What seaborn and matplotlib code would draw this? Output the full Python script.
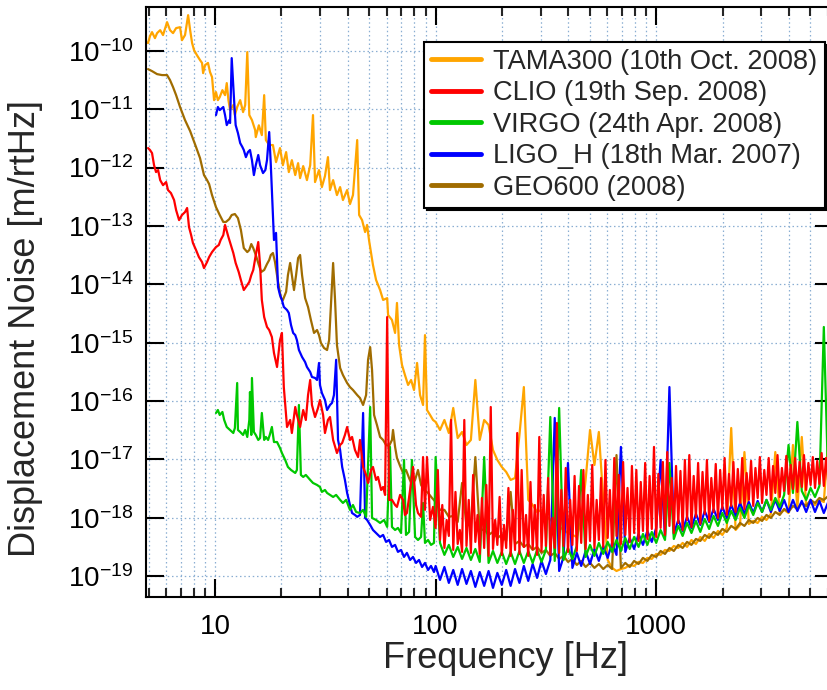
import numpy as np
import matplotlib
matplotlib.use("Agg")
import matplotlib.pyplot as plt
import seaborn as sns
from matplotlib.lines import Line2D
from matplotlib.ticker import FixedLocator, FixedFormatter, LogLocator, NullFormatter, NullLocator

sns.set_style("ticks")
plt.rcParams["font.family"] = ["Liberation Sans", "DejaVu Sans"]
plt.rcParams["mathtext.fontset"] = "custom"
plt.rcParams["mathtext.rm"] = "Liberation Sans"
plt.rcParams["mathtext.it"] = "Liberation Sans:italic"
plt.rcParams["mathtext.bf"] = "Liberation Sans:bold"

# ---------------- data ----------------
labels = ["TAMA300 (10th Oct. 2008)", "CLIO (19th Sep. 2008)", "VIRGO (24th Apr. 2008)",
          "LIGO_H (18th Mar. 2007)", "GEO600 (2008)"]
colors = ["#FFA500", "#FF0000", "#00C800", "#0000FF", "#A06C00"]

x_ticks = [10, 100, 1000]
x_tick_labels = ["10", "100", "1000"]
y_ticks = [1e-19, 1e-18, 1e-17, 1e-16, 1e-15, 1e-14, 1e-13, 1e-12, 1e-11, 1e-10]
y_tick_labels = [r"$\mathregular{10^{-19}}$", r"$\mathregular{10^{-18}}$", r"$\mathregular{10^{-17}}$",
                 r"$\mathregular{10^{-16}}$", r"$\mathregular{10^{-15}}$", r"$\mathregular{10^{-14}}$",
                 r"$\mathregular{10^{-13}}$", r"$\mathregular{10^{-12}}$", r"$\mathregular{10^{-11}}$",
                 r"$\mathregular{10^{-10}}$"]

# high-frequency sampling (Hz), shared by the dense parts of the spectra
freq_fine = [100, 102.3, 104.7, 107.2, 109.6, 112.2, 114.8, 117.5, 120.2, 123.0,
             125.9, 128.8, 131.8, 134.9, 138.0, 141.3, 144.5, 147.9, 151.4, 154.9,
             158.5, 162.2, 166.0, 169.8, 173.8, 177.8, 182.0, 186.2, 190.5, 195.0,
             199.5, 204.2, 208.9, 213.8, 218.8, 223.9, 229.1, 234.4, 239.9, 245.5,
             251.2, 257.0, 263.0, 269.2, 275.4, 281.8, 288.4, 295.1, 302.0, 309.0,
             316.2, 323.6, 331.1, 338.8, 346.7, 354.8, 363.1, 371.5, 380.2, 389.0,
             398.1, 407.4, 416.9, 426.6, 436.5, 446.7, 457.1, 467.7, 478.6, 489.8,
             501.2, 512.9, 524.8, 537.0, 549.5, 562.3, 575.4, 588.8, 602.6, 616.6,
             631.0, 645.7, 660.7, 676.1, 691.8, 707.9, 724.4, 741.3, 758.6, 776.2,
             794.3, 812.8, 831.8, 851.1, 871.0, 891.3, 912.0, 933.3, 955.0, 977.2,
             1000, 1023, 1047, 1072, 1096, 1122, 1148, 1175, 1202, 1230,
             1259, 1288, 1318, 1349, 1380, 1413, 1445, 1479, 1514, 1549,
             1585, 1622, 1660, 1698, 1738, 1778, 1820, 1862, 1905, 1950,
             1995, 2042, 2089, 2138, 2188, 2239, 2291, 2344, 2399, 2455,
             2512, 2570, 2630, 2692, 2754, 2818, 2884, 2951, 3020, 3090,
             3162, 3236, 3311, 3388, 3467, 3548, 3631, 3715, 3802, 3890,
             3981, 4074, 4169, 4266, 4365, 4467, 4571, 4677, 4786, 4898,
             5012, 5129, 5248, 5370, 5495, 5623, 5754, 5888, 6026]
freq_grid = freq_fine[::2]

# ---- TAMA300 ----
tama_lf_freq = [4.86, 4.97, 5.07, 5.18, 5.34, 5.46, 5.64, 5.81, 6.0, 6.06, 6.25, 6.45, 6.66, 6.94, 7.08,
                7.31, 7.55, 7.71, 7.87, 8.03, 8.28, 8.55, 8.73, 8.83, 9.01, 9.29, 9.49, 9.69, 9.9, 10.1,
                10.3, 10.5, 10.8, 11.1, 11.3, 11.5, 11.7, 12.1, 12.3, 12.6, 13.0, 13.4, 13.7, 14.0, 14.3,
                14.7, 15.2, 15.3, 15.8, 16.3, 16.7, 17.0, 17.6, 18.3, 18.9, 19.7, 20.3, 21.0, 21.6, 22.3,
                23.1, 23.8, 24.3, 25.1, 26.1, 27.0, 27.8, 28.4, 29.6, 30.5, 31.5, 32.5, 33.2, 34.3, 35.7,
                36.9, 38.0, 39.7, 40.9, 42.2, 44.1, 45.0, 46.4, 47.9, 48.9, 49.9, 52.0, 53.7, 56.0, 57.8,
                60.3, 60.9, 63.4, 65.5, 66.8, 68.3, 70.4, 72.6, 75.0, 77.4, 79.8, 82.4, 85.0, 87.7, 89.5,
                91.4, 94.4, 97.3]
tama_lf = [1.41e-10, 1.36e-10, 1.79e-10, 2.09e-10, 1.65e-10, 2.01e-10, 2.26e-10, 1.86e-10, 2.75e-10, 3.1e-10,
           2.26e-10, 2.01e-10, 2.45e-10, 2.54e-10, 1.52e-10, 1.86e-10, 4.08e-10, 2.26e-10, 1.36e-10, 1.03e-10,
           8.4e-11, 6.93e-11, 6.2e-11, 4.15e-11, 5.69e-11, 6.2e-11, 4.32e-11, 3.55e-11, 1.43e-11, 1.96e-11,
           1.43e-11, 1.61e-11, 2.12e-11, 1.74e-11, 2.8e-11, 1.43e-11, 9.7e-12, 1.18e-11, 7.93e-12, 1.09e-11,
           1.43e-11, 8.92e-12, 1.18e-11, 9.5e-11, 7.93e-12, 6.5e-12, 4.39e-12, 3.33e-12, 5.3e-12, 3.6e-12,
           1.74e-11, 2.96e-12, 2.43e-12, 2.43e-12, 1.24e-12, 2.16e-12, 1.10e-12, 1.84e-12, 8.38e-13, 1.34e-12,
           7.44e-13, 1.19e-12, 6.61e-13, 1.06e-12, 6.1e-13, 1.10e-12, 7.93e-12, 5.65e-13, 9.06e-13, 4.63e-13,
           7.15e-13, 1.51e-12, 4.12e-13, 6.1e-13, 3.38e-13, 4.63e-13, 2.78e-13, 4.12e-13, 2.37e-13, 3.38e-13,
           2.96e-12, 1.54e-13, 1.26e-13, 7.86e-14, 1.04e-13, 5.7e-14, 2.14e-14, 1.19e-14, 8.0e-15, 5.4e-15,
           5.8e-15, 2.98e-15, 2.45e-15, 1.47e-15, 4.8e-15, 9.1e-16, 4.15e-16, 2.8e-16, 1.89e-16, 2.3e-16,
           1.55e-16, 4.5e-16, 1.27e-16, 8.58e-17, 1.35e-15, 7.04e-17, 5.78e-17, 4.75e-17]
tama_hf = [4.39e-17, 3.20e-17, 4.75e-17, 2.84e-17, 7.62e-17, 2.33e-17, 2.96e-17, 1.77e-17, 2.16e-17, 2.30e-16,
           2.16e-17, 4.75e-17, 3.90e-17, 1.45e-17, 9.80e-18, 7.44e-18, 6.11e-18, 4.46e-18, 4.82e-18, 2.63e-17,
           1.74e-16, 2.03e-18, 1.66e-18, 1.26e-18, 1.37e-18, 1.08e-18, 9.20e-19, 8.18e-19, 6.99e-19, 6.20e-19,
           5.51e-19, 5.10e-19, 4.71e-19, 9.20e-19, 4.46e-18, 3.20e-17, 8.05e-18, 2.96e-17, 2.03e-18, 1.90e-19,
           1.39e-19, 1.23e-19, 1.33e-19, 1.39e-19, 1.56e-19, 1.50e-19, 1.76e-19, 1.69e-19, 2.06e-19, 1.98e-19,
           2.41e-19, 2.32e-19, 2.82e-19, 2.71e-19, 3.30e-19, 3.05e-19, 3.72e-19, 3.18e-19, 4.18e-19, 3.57e-19,
           4.71e-19, 4.02e-19, 5.30e-19, 4.53e-19, 5.97e-19, 5.10e-19, 6.72e-19, 3.46e-17, 6.20e-19, 7.56e-19,
           1.34e-17, 7.86e-19, 8.85e-19, 8.18e-19, 1.04e-18, 9.20e-19, 1.17e-18, 1.34e-17, 1.17e-18, 1.37e-18,
           1.21e-18, 1.77e-17, 1.42e-18, 2.43e-17, 1.60e-18, 1.80e-18, 1.66e-18, 2.03e-18, 1.87e-18, 2.16e-17]

# ---- CLIO ----
clio_lf_freq = [4.97, 5.07, 5.18, 5.29, 5.40, 5.52, 5.64, 5.81, 6.0, 6.12, 6.31, 6.52, 6.66, 6.87, 7.08,
                7.31, 7.47, 7.62, 7.79, 7.94, 8.2, 8.45, 8.73, 8.91, 9.2, 9.4, 9.69, 10.1, 10.4, 10.6,
                10.9, 11.1, 11.5, 11.8, 12.1, 12.4, 12.8, 13.1, 13.5, 14.0, 14.3, 14.6, 14.9, 15.3, 15.7,
                16.0, 16.3, 16.7, 17.2, 17.6, 18.1, 18.5, 19.1, 19.7, 20.1, 20.5, 21.2, 21.9, 22.3, 23.1,
                23.5, 24.3, 25.1, 25.8, 26.4, 27.0, 27.5, 28.4, 29.3, 29.9, 30.9, 31.5, 32.5, 33.2, 34.3,
                35.7, 36.9, 37.7, 38.8, 39.7, 40.9, 41.8, 43.1, 44.5, 45.4, 46.9, 48.4, 49.4, 51.0, 52.0,
                53.7, 54.8, 56.6, 57.8, 59.0, 60.3, 61.5, 63.4, 65.5, 66.8, 69.0, 71.2, 72.6, 74.1, 76.6,
                79.0, 81.5, 83.2, 85.9, 87.7, 89.5, 91.4, 94.4, 97.3]
clio_lf = [2.16e-12, 2.0e-12, 1.77e-12, 1.10e-12, 8.38e-13, 9.06e-13, 6.1e-13, 5.0e-13, 5.65e-13, 4.12e-13,
           3.66e-13, 2.78e-13, 1.87e-13, 1.26e-13, 1.54e-13, 1.73e-13, 2.03e-13, 9.57e-14, 6.99e-14, 5.1e-14,
           3.87e-14, 2.93e-14, 2.41e-14, 1.9e-14, 2.41e-14, 2.93e-14, 3.57e-14, 4.35e-14, 4.71e-14, 5.74e-14,
           6.99e-14, 1.04e-13, 6.45e-14, 4.71e-14, 3.44e-14, 2.32e-14, 1.63e-14, 1.18e-14, 7.99e-15, 9.73e-15,
           1.1e-14, 1.44e-14, 1.76e-14, 3.18e-14, 5.3e-14, 2.14e-14, 5.38e-15, 2.75e-15, 1.86e-15, 1.65e-15,
           1.25e-15, 6.67e-16, 3.84e-16, 1.11e-15, 1.47e-15, 1.74e-16, 3.6e-17, 4.75e-17, 2.84e-17, 7.92e-17,
           5.78e-17, 3.6e-17, 7.04e-17, 4.75e-17, 1.27e-16, 2.3e-16, 8.58e-17, 5.34e-17, 7.62e-17, 1.045e-16,
           5.78e-17, 2.84e-17, 4.75e-17, 5.34e-17, 2.16e-17, 1.29e-17, 1.77e-17, 1.92e-17, 2.63e-17, 3.6e-17,
           2.16e-17, 2.43e-17, 1.45e-17, 1.1e-17, 2.16e-17, 7.44e-18, 5.43e-18, 3.96e-18, 6.61e-18, 7.44e-18,
           4.46e-18, 5.02e-18, 3.0e-18, 3.38e-18, 2.47e-18, 2.75e-15, 2.03e-18, 2.03e-18, 1.66e-18, 1.54e-18,
           2.47e-18, 2.03e-18, 1.12e-18, 1.21e-18, 3.0e-18, 7.44e-18, 1.66e-18, 1.21e-18, 1.04e-18, 1.1e-17,
           1.37e-18, 1.1e-17, 9.2e-19, 1.54e-18]
clio_hf = [6.72e-19, 6.61e-18, 4.18e-19, 1.66e-18, 3.05e-19, 9.20e-19, 4.90e-19, 4.75e-17, 2.82e-19, 2.78e-18,
           3.57e-19, 6.20e-19, 2.61e-19, 4.75e-17, 3.30e-19, 2.03e-18, 2.51e-19, 5.43e-18, 3.87e-19, 1.12e-18,
           2.41e-19, 2.19e-18, 3.05e-19, 3.66e-18, 2.23e-19, 7.92e-17, 2.93e-19, 9.20e-19, 3.44e-19, 2.28e-18,
           2.32e-19, 7.56e-19, 3.05e-19, 3.25e-18, 2.23e-19, 1.37e-18, 2.82e-19, 2.84e-17, 2.41e-19, 6.61e-18,
           3.18e-19, 1.12e-18, 2.23e-19, 4.12e-18, 2.93e-19, 1.66e-18, 2.32e-19, 2.43e-17, 2.71e-19, 2.47e-18,
           3.30e-19, 4.82e-18, 2.32e-19, 9.96e-19, 3.05e-19, 4.22e-17, 2.51e-19, 3.00e-18, 3.30e-19, 7.15e-18,
           2.61e-19, 2.03e-18, 3.44e-19, 5.22e-18, 2.71e-19, 3.52e-18, 3.72e-19, 6.61e-18, 2.93e-19, 2.47e-18,
           4.02e-19, 8.05e-18, 3.05e-19, 2.03e-18, 4.18e-19, 4.82e-18, 3.18e-19, 9.80e-18, 4.53e-19, 3.00e-18,
           3.30e-19, 1.06e-17, 4.90e-19, 5.43e-18, 3.57e-19, 9.06e-18, 5.10e-19, 3.25e-18, 3.87e-19, 7.74e-18,
           5.51e-19, 6.61e-18, 4.02e-19, 4.12e-18, 5.97e-19, 8.71e-18, 4.35e-19, 5.22e-18, 6.45e-19, 1.64e-17,
           4.71e-19, 5.65e-18, 6.72e-19, 9.06e-18, 5.10e-19, 1.34e-17, 7.27e-19, 4.82e-18, 5.51e-19, 7.74e-18,
           8.18e-19, 6.36e-18, 6.20e-19, 9.80e-18, 9.20e-19, 1.19e-17, 6.99e-19, 5.22e-18, 1.04e-18, 8.71e-18,
           7.86e-19, 6.11e-18, 1.17e-18, 9.80e-18, 8.85e-19, 4.82e-18, 1.26e-18, 8.37e-18, 9.96e-19, 6.61e-18,
           1.42e-18, 1.06e-17, 1.12e-18, 5.65e-18, 1.60e-18, 9.06e-18, 1.26e-18, 6.88e-18, 1.80e-18, 1.06e-17,
           1.42e-18, 5.87e-18, 2.03e-18, 9.43e-18, 1.60e-18, 7.15e-18, 2.19e-18, 1.10e-17, 1.80e-18, 6.61e-18,
           2.47e-18, 1.06e-17, 2.03e-18, 7.74e-18, 2.67e-18, 1.19e-17, 2.28e-18, 7.15e-18, 2.89e-18, 1.15e-17,
           2.57e-18, 8.05e-18, 3.13e-18, 1.06e-17, 2.78e-18, 9.06e-18, 3.38e-18, 1.19e-17, 3.00e-18, 8.71e-18,
           3.66e-18, 1.10e-17, 3.25e-18, 9.43e-18, 3.81e-18, 1.29e-17, 3.52e-18, 1.06e-17, 3.96e-18]

# ---- VIRGO ----
virgo_lf_freq = [10.1, 10.3, 10.5, 10.8, 11.0, 11.3, 11.7, 12.1, 12.3, 12.6, 12.7, 13.0, 13.4, 13.7, 14.0,
                 14.3, 14.4, 14.6, 14.7, 15.0, 15.3, 15.7, 16.0, 16.3, 16.7, 17.0, 17.4, 17.7, 18.1, 18.5,
                 19.1, 19.7, 20.1, 20.8, 21.4, 22.1, 23.1, 23.5, 24.0, 24.5, 25.1, 25.8, 27.0, 27.8, 29.0,
                 29.9, 30.5, 31.5, 32.2, 33.2, 34.3, 35.4, 36.9, 38.0, 39.3, 40.9, 42.2, 43.6, 45.4, 46.9,
                 48.4, 50.5, 51.5, 53.7, 56.0, 58.4, 60.3, 62.1, 63.4, 65.5, 67.5, 69.7, 71.9, 73.4, 75.8,
                 78.1, 80.7, 83.2, 85.9, 87.7, 89.5, 92.4, 95.3, 98.3]
virgo_lf = [6.26e-17, 7.04e-17, 5.78e-17, 6.51e-17, 4.75e-17, 3.6e-17, 3.2e-17, 2.84e-17, 3.46e-17, 2.04e-16,
            3.2e-17, 2.96e-17, 2.63e-17, 3.2e-17, 2.43e-17, 4.75e-17, 1.43e-16, 2.63e-17, 2.49e-16, 2.96e-17,
            2.63e-17, 2.16e-17, 2.33e-17, 6.26e-17, 2.16e-17, 2.43e-17, 2.16e-17, 2.63e-17, 3.6e-17, 1.99e-17,
            1.99e-17, 1.57e-17, 1.29e-17, 9.8e-18, 7.44e-18, 6.61e-18, 5.87e-18, 6.61e-18, 8.58e-17, 5.43e-18,
            5.02e-18, 5.43e-18, 4.46e-18, 3.96e-18, 3.66e-18, 3.38e-18, 2.78e-18, 3.0e-18, 2.67e-18, 2.47e-18,
            2.28e-18, 2.47e-18, 2.03e-18, 1.8e-18, 2.03e-18, 1.37e-18, 1.66e-18, 1.26e-18, 1.21e-18, 1.37e-18,
            1.04e-18, 7.92e-17, 9.96e-19, 9.2e-19, 8.18e-19, 9.2e-19, 6.99e-19, 1.64e-17, 6.99e-19, 6.2e-19,
            6.72e-19, 5.51e-19, 9.8e-18, 5.1e-19, 5.74e-19, 9.8e-18, 4.71e-19, 4.18e-19, 4.71e-19, 1.8e-18,
            3.72e-19, 4.18e-19, 3.44e-19, 3.72e-19]
virgo_hf = [1.10e-17, 3.72e-19, 2.32e-19, 3.44e-19, 2.14e-19, 3.18e-19, 1.98e-19, 3.05e-19, 1.90e-19, 2.93e-19,
            1.76e-19, 1.10e-17, 1.69e-19, 2.71e-19, 1.69e-19, 2.61e-19, 1.62e-19, 2.61e-19, 1.62e-19, 2.71e-19,
            1.69e-19, 2.71e-19, 1.69e-19, 2.82e-19, 1.76e-19, 2.82e-19, 5.34e-17, 1.83e-19, 7.62e-17, 1.90e-19,
            3.05e-19, 1.98e-19, 3.30e-19, 6.61e-18, 2.14e-19, 3.44e-19, 2.23e-19, 3.72e-19, 2.41e-19, 3.87e-19,
            2.61e-19, 4.18e-19, 2.71e-19, 4.53e-19, 2.93e-19, 4.71e-19, 3.18e-19, 5.30e-19, 3.44e-19, 5.74e-19,
            3.72e-19, 6.20e-19, 4.18e-19, 8.71e-18, 4.35e-19, 7.27e-19, 4.90e-19, 8.18e-19, 5.51e-19, 8.85e-19,
            5.74e-19, 9.58e-19, 6.45e-19, 1.08e-18, 7.27e-19, 1.21e-18, 8.18e-19, 1.31e-18, 9.20e-19, 1.48e-18,
            9.96e-19, 1.66e-18, 1.12e-18, 1.80e-18, 1.26e-18, 2.03e-18, 1.37e-18, 2.19e-18, 1.54e-18, 2.47e-18,
            1.77e-17, 2.67e-18, 4.39e-17, 2.89e-18, 2.03e-18, 3.25e-18, 2.28e-18, 3.52e-18, 1.86e-15, 3.81e-18]

# ---- LIGO Hanford ----
ligo_lf_freq = [10.1, 10.3, 10.5, 10.9, 11.1, 11.3, 11.6, 11.7, 11.9, 12.2, 12.4, 12.7, 13.0, 13.3, 13.5,
                13.8, 14.1, 14.4, 14.7, 15.0, 15.3, 15.7, 16.0, 16.5, 16.9, 17.2, 17.6, 17.9, 18.3, 18.5,
                18.9, 19.3, 19.7, 20.1, 20.5, 21.2, 21.6, 22.1, 22.6, 23.1, 23.5, 24.0, 24.8, 25.6, 26.1,
                27.0, 27.5, 28.4, 29.0, 29.6, 29.9, 30.5, 31.5, 32.2, 33.2, 33.9, 34.6, 35.4, 36.1, 36.9,
                37.7, 38.8, 39.7, 40.9, 41.8, 43.1, 44.1, 45.4, 46.9, 47.9, 48.9, 50.5, 52.0, 53.7, 56.0,
                57.8, 59.6, 61.5, 63.4, 65.5, 67.5, 69.7, 71.9, 74.1, 76.6, 79.0, 81.5, 84.1, 86.8, 89.5,
                92.4, 95.3, 98.3]
ligo_lf = [7.93e-12, 1.09e-11, 9.65e-12, 1.09e-11, 7.93e-12, 5.34e-12, 6.5e-12, 5.8e-12, 7.5e-11, 1.43e-11,
           5.34e-12, 3.9e-12, 2.63e-12, 2.25e-12, 2.0e-12, 1.51e-12, 1.84e-12, 2.0e-12, 1.34e-12, 7.44e-13,
           1.1e-12, 1.64e-12, 1.1e-12, 8.05e-13, 9.06e-13, 1.34e-12, 4.06e-12, 1.1e-12, 1.42e-13, 5.74e-14,
           7.6e-14, 9.0e-15, 6.56e-15, 5.38e-15, 4.1e-15, 3.63e-15, 3.23e-15, 2.01e-15, 1.47e-15, 1.35e-15,
           1.11e-15, 7.5e-16, 5.7e-16, 4.67e-16, 3.84e-16, 3.15e-16, 2.59e-16, 2.49e-16, 2.3e-16, 4.5e-16,
           1.89e-16, 1.38e-16, 1.045e-16, 7.04e-17, 8.58e-17, 9.3e-17, 1.27e-16, 5.1e-16, 2.16e-17, 1.45e-17,
           7.44e-18, 4.46e-18, 2.67e-18, 1.66e-18, 1.21e-18, 1.12e-18, 1.04e-18, 1.12e-18, 6.26e-17, 9.96e-19,
           9.2e-19, 7.56e-19, 6.2e-19, 5.51e-19, 4.71e-19, 5.1e-19, 3.87e-19, 4.18e-19, 3.18e-19, 3.44e-19,
           2.61e-19, 2.82e-19, 2.14e-19, 2.51e-19, 1.9e-19, 2.14e-19, 1.69e-19, 1.9e-19, 1.44e-19, 1.69e-19,
           1.28e-19, 1.5e-19, 1.18e-19]
ligo_hf = [1.50e-19, 8.64e-20, 1.44e-19, 7.68e-20, 1.28e-19, 7.10e-20, 1.33e-19, 7.38e-20, 1.23e-19, 6.56e-20,
           1.18e-19, 6.83e-20, 1.23e-19, 6.31e-20, 1.14e-19, 7.10e-20, 1.28e-19, 6.83e-20, 1.33e-19, 7.68e-20,
           1.50e-19, 8.31e-20, 1.62e-19, 9.35e-20, 1.83e-19, 1.09e-19, 1.90e-19, 5.14e-17, 1.23e-19, 2.14e-19,
           8.71e-18, 1.39e-19, 2.51e-19, 1.50e-19, 2.71e-19, 1.62e-19, 2.93e-19, 1.83e-19, 3.30e-19, 2.06e-19,
           3.72e-19, 2.32e-19, 1.64e-17, 2.61e-19, 4.53e-19, 2.93e-19, 5.30e-19, 3.44e-19, 5.97e-19, 3.87e-19,
           6.72e-19, 9.80e-18, 4.71e-19, 1.74e-16, 5.30e-19, 9.20e-19, 5.97e-19, 1.04e-18, 6.72e-19, 1.17e-18,
           7.56e-19, 1.31e-18, 8.51e-19, 1.42e-18, 9.20e-19, 1.54e-18, 9.96e-19, 1.66e-18, 1.08e-18, 1.80e-18,
           1.17e-18, 1.87e-18, 1.21e-18, 1.95e-18, 1.26e-18, 2.03e-18, 1.26e-18, 2.03e-18, 1.31e-18, 2.03e-18,
           1.26e-18, 2.03e-18, 1.31e-18, 1.95e-18, 1.26e-18, 2.03e-18, 1.26e-18, 1.95e-18, 1.21e-18, 1.87e-18]

# ---- GEO600 ----
geo_lf_freq = [4.97, 5.18, 5.46, 5.75, 6.06, 6.25, 6.45, 6.66, 6.94, 7.31, 7.71, 8.2, 8.55, 8.91, 9.2,
               9.4, 9.69, 10.1, 10.5, 10.9, 11.2, 11.6, 11.9, 12.3, 12.7, 13.1, 13.5, 14.0, 14.3, 14.6,
               14.9, 15.3, 15.8, 16.2, 16.7, 17.2, 17.6, 17.9, 18.3, 18.7, 19.3, 19.9, 20.3, 21.0, 21.4,
               21.9, 22.3, 22.8, 23.3, 23.8, 24.3, 24.8, 25.6, 26.4, 27.2, 28.1, 29.0, 29.6, 30.2, 31.2,
               32.2, 32.9, 33.6, 34.3, 35.0, 35.7, 36.9, 38.0, 39.7, 40.9, 42.2, 44.1, 45.4, 46.9, 48.4,
               49.4, 50.5, 51.5, 52.6, 54.2, 56.0, 57.8, 59.6, 61.5, 63.4, 64.1, 65.5, 66.8, 69.0, 71.2,
               73.4, 75.8, 78.1, 80.7, 83.2, 85.9, 88.6, 92.4, 96.3]
geo_lf = [4.86e-11, 4.49e-11, 3.99e-11, 3.84e-11, 3.84e-11, 3.15e-11, 2.39e-11, 1.74e-11, 1.09e-11, 6.5e-12,
          4.22e-12, 2.25e-12, 1.45e-12, 7.44e-13, 6.1e-13, 5.22e-13, 3.38e-13, 2.1e-13, 1.54e-13, 1.17e-13,
          1.17e-13, 1.31e-13, 1.54e-13, 1.6e-13, 1.36e-13, 8.5e-14, 4.18e-14, 3.57e-14, 3.87e-14, 4.9e-14,
          4.18e-14, 3.18e-14, 2.14e-14, 1.63e-14, 1.76e-14, 2.23e-14, 2.61e-14, 3.18e-14, 3.44e-14, 2.41e-14,
          1.1e-14, 5.83e-15, 5.38e-15, 7.44e-15, 1.44e-14, 2.32e-14, 1.44e-14, 7.99e-15, 1.44e-14, 2.82e-14,
          3.18e-14, 1.44e-14, 5.83e-15, 4.09e-15, 2.45e-15, 1.47e-15, 1.65e-15, 1.35e-15, 9.9e-16, 8.11e-16,
          7.5e-16, 1.11e-15, 5.38e-15, 2.32e-14, 5.38e-15, 9.13e-16, 3.69e-16, 2.8e-16, 2.04e-16, 1.74e-16,
          1.55e-16, 1.27e-16, 1.13e-16, 8.58e-17, 1.27e-16, 5.1e-16, 8.4e-16, 3.4e-16, 5.78e-17, 3.9e-17,
          2.43e-17, 2.16e-17, 1.77e-17, 1.7e-17, 2.16e-17, 3.2e-17, 1.64e-17, 1.06e-17, 7.74e-18, 5.87e-18,
          6.61e-18, 4.82e-18, 3.66e-18, 4.46e-18, 6.61e-18, 3.66e-18, 3.0e-18, 2.67e-18, 2.19e-18]
geo_hf = [1.87e-18, 1.37e-18, 1.37e-18, 1.04e-18, 1.08e-18, 8.51e-19, 3.96e-18, 7.27e-19, 7.86e-19, 1.10e-17,
          5.97e-19, 6.45e-19, 5.10e-19, 5.74e-19, 4.53e-19, 5.10e-19, 4.02e-19, 2.78e-18, 3.57e-19, 4.02e-19,
          3.18e-19, 3.57e-19, 2.82e-19, 3.18e-19, 2.51e-19, 2.82e-19, 2.23e-19, 2.51e-19, 1.98e-19, 2.23e-19,
          1.76e-19, 1.98e-19, 1.56e-19, 1.83e-19, 1.44e-19, 1.69e-19, 1.39e-19, 1.62e-19, 1.33e-19, 1.56e-19,
          1.33e-19, 1.19e-17, 1.39e-19, 1.69e-19, 1.44e-19, 1.83e-19, 1.62e-19, 2.06e-19, 1.83e-19, 2.32e-19,
          2.14e-19, 2.71e-19, 2.41e-19, 3.05e-19, 2.71e-19, 3.44e-19, 3.05e-19, 3.87e-19, 3.44e-19, 4.35e-19,
          4.02e-19, 5.10e-19, 4.53e-19, 5.74e-19, 5.10e-19, 6.45e-19, 5.74e-19, 7.27e-19, 6.45e-19, 8.18e-19,
          7.27e-19, 9.20e-19, 8.18e-19, 9.96e-19, 8.85e-19, 1.12e-18, 9.96e-19, 1.26e-18, 1.12e-18, 1.42e-18,
          1.26e-18, 1.60e-18, 1.42e-18, 1.80e-18, 1.60e-18, 2.03e-18, 1.80e-18, 2.19e-18, 2.03e-18, 2.37e-18]

# -------------- assemble series --------------
series = [
    (tama_lf_freq + freq_grid, tama_lf + tama_hf, 2.0),
    (clio_lf_freq + freq_fine, clio_lf + clio_hf, 2.5),
    (virgo_lf_freq + freq_grid, virgo_lf + virgo_hf, 2.4),
    (ligo_lf_freq + freq_grid, ligo_lf + ligo_hf, 2.3),
    (geo_lf_freq + freq_grid, geo_lf + geo_hf, 2.1),
]

# ---------------- figure ----------------
fig = plt.figure(figsize=(8.28, 6.9), dpi=100)
ax = fig.add_axes([0.176, 0.1343, 0.830, 0.8560])

for (fr, val, z), col in zip(series, colors):
    sns.lineplot(x=np.array(fr), y=np.array(val), ax=ax, color=col, linewidth=1.6,
                 estimator=None, sort=False, zorder=z, legend=False)

ax.set_xscale("log")
ax.set_yscale("log")
ax.set_xlim(4.85, 6330)
ax.set_ylim(4.35e-20, 5.7e-10)

ax.xaxis.set_major_locator(FixedLocator(x_ticks))
ax.xaxis.set_major_formatter(FixedFormatter(x_tick_labels))
ax.xaxis.set_minor_locator(LogLocator(base=10, subs=np.arange(2, 10), numticks=30))
ax.xaxis.set_minor_formatter(NullFormatter())
ax.yaxis.set_major_locator(FixedLocator(y_ticks))
ax.yaxis.set_major_formatter(FixedFormatter(y_tick_labels))
ax.yaxis.set_minor_locator(NullLocator())

ax.tick_params(which="major", direction="in", length=13, width=1.5, colors="black",
               top=True, right=True, labelsize=20, pad=9)
ax.tick_params(axis="x", which="major", pad=12)
ax.tick_params(which="minor", direction="in", length=6.5, width=1.5, top=True, right=True)
for sp in ax.spines.values():
    sp.set_linewidth(1.5)
    sp.set_color("black")

grid_kw = dict(color="#8aaed2", linestyle=(0, (1.2, 2.2)), linewidth=0.9)
ax.grid(True, which="major", axis="both", **grid_kw)
ax.grid(True, which="minor", axis="x", **grid_kw)
ax.set_axisbelow(True)

ax.set_xlabel("Frequency [Hz]", fontsize=26)
ax.set_ylabel("Displacement Noise [m/rtHz]", fontsize=26)
ax.xaxis.set_label_coords(0.524, -0.074)
ax.yaxis.set_label_coords(-0.150, 0.456)

handles = [Line2D([], [], color=c, linewidth=3.5) for c in colors]
leg = ax.legend(handles, labels, loc="upper left", bbox_to_anchor=(0.405, 0.940),
                borderaxespad=0, fontsize=19.6, frameon=True, fancybox=False,
                shadow={"color": "black", "alpha": 1.0}, framealpha=1, edgecolor="black",
                handlelength=1.85, handletextpad=0.45, labelspacing=0.2, borderpad=0.25)
leg.get_frame().set_linewidth(1.5)

fig.savefig("out.png", dpi=100)
